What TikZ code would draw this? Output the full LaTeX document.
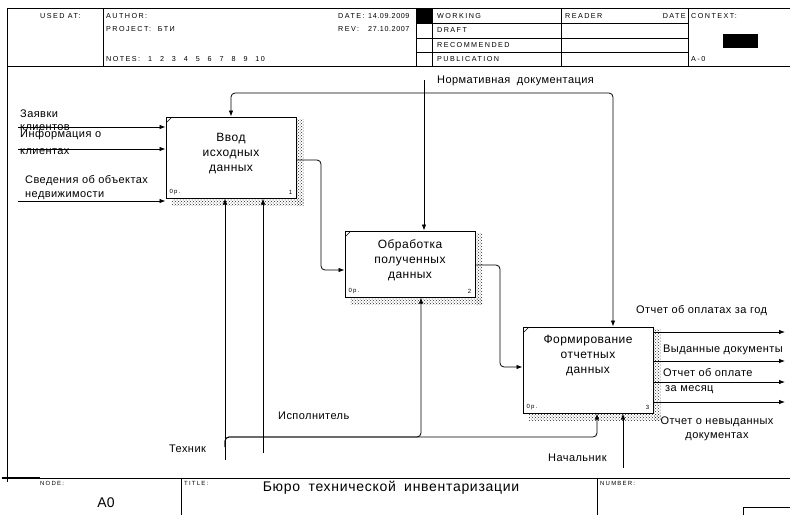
\documentclass[tikz,border=0pt]{standalone}
\usepackage{fontspec}
\setmainfont{Liberation Sans}
\newfontfamily\hdrfont[LetterSpace=20]{Liberation Sans}
\newfontfamily\numfont[LetterSpace=8]{Liberation Sans}
\newfontfamily\lblfont[LetterSpace=4]{Liberation Sans}
\newfontfamily\ttlfont[LetterSpace=5]{Liberation Sans}
\usetikzlibrary{arrows.meta,patterns}

\begin{document}
\begin{tikzpicture}[x=1pt,y=-1pt,
  frame/.style={line width=0.9pt},
  hdr/.style={font=\hdrfont\fontsize{7.2}{8}\selectfont, anchor=west, inner sep=0pt},
  hnum/.style={font=\numfont\fontsize{7.2}{8}\selectfont, anchor=west, inner sep=0pt},
  tiny/.style={font=\hdrfont\fontsize{6}{7}\selectfont, anchor=west, inner sep=0pt},
  lbl/.style={font=\lblfont\fontsize{11}{13}\selectfont, anchor=west, inner sep=0pt},
  fbox/.style={draw, line width=1pt, fill=white, inner sep=0pt},
  btxt/.style={font=\lblfont\fontsize{12}{15}\selectfont, align=center, inner sep=0pt, anchor=north},
  shade/.style={pattern=crosshatch dots, pattern color=black!85},
  link/.style={line width=0.8pt, rounded corners=4pt},
  arr/.style={link, -{Latex[length=6pt,width=4.5pt]}}]
\useasboundingbox (0,0) rectangle (790,515);

% ---------- header frame ----------
\draw[frame] (7,482) -- (7,8) -- (790,8);
\draw[frame] (7,66) -- (790,66);
\foreach \x in {103,416,432,561,688} \draw[frame] (\x,8) -- (\x,66);
\foreach \y in {23,38,52} \draw[frame] (416,\y) -- (688,\y);
\fill (416,8) rectangle (432,23);
\fill (723,34) rectangle (758,48);

\node[hdr] (usedat) at (40,16) {USED AT:};
\node[hdr] (author) at (106,16) {AUTHOR:};
\node[hdr] (project) at (106,29) {PROJECT:\ \ БТИ};
\node[hdr] (notes) at (106,59) {NOTES:\hspace{1.1em}1\hspace{1.1em}2\hspace{1.1em}3\hspace{1.1em}4\hspace{1.1em}5\hspace{1.1em}6\hspace{1.1em}7\hspace{1.1em}8\hspace{1.1em}9\hspace{1.1em}10};
\node[hdr] (date) at (338,16) {DATE:};
\node[hnum] (dateval) at (368,16) {14.09.2009};
\node[hdr] (rev) at (338,29) {REV:};
\node[hnum] (revval) at (368,29) {27.10.2007};
\node[hdr] (working) at (437,16) {WORKING};
\node[hdr] (draft) at (437,30) {DRAFT};
\node[hdr] (recom) at (437,45) {RECOMMENDED};
\node[hdr] (public) at (437,59) {PUBLICATION};
\node[hdr] (reader) at (565,16) {READER};
\node[hdr, anchor=east] (rdate) at (686,16) {DATE};
\node[hdr] (context) at (691,16) {CONTEXT:};
\node[hdr] (ctxnode) at (691,59) {A-0};

% ---------- footer frame ----------
\draw[frame] (2,478) -- (790,478);
\draw[line width=1.4pt] (2,478) -- (40,478);
\draw[frame] (181,478) -- (181,515);
\draw[frame] (597,478) -- (597,515);
\draw[frame] (743,515) -- (743,507) -- (790,507);
\node[tiny] (nodelbl) at (40,483) {NODE:};
\node[tiny] (titlelbl) at (184,483) {TITLE:};
\node[tiny] (numlbl) at (600,483) {NUMBER:};
\node[font=\fontsize{14}{16}\selectfont, inner sep=0pt] (nodeno) at (106,503) {A0};
\node[font=\ttlfont\fontsize{14}{16}\selectfont, inner sep=0pt] (title) at (391,488)
  {Бюро\hspace{0.6em}технической\hspace{0.6em}инвентаризации};

% ---------- function boxes ----------
\node[fbox, minimum width=130pt, minimum height=81pt] (b1) at (231,157.5) {};
\node[fbox, minimum width=130pt, minimum height=66pt] (b2) at (410,264) {};
\node[fbox, minimum width=130pt, minimum height=86pt] (b3) at (588,370) {};

\foreach \b/\n in {b1/1,b2/2,b3/3}{
  \fill[shade] ([shift={(0.6,3)}]\b.north east) rectangle ([shift={(7,7)}]\b.south east);
  \fill[shade] ([shift={(6,0.6)}]\b.south west) rectangle ([shift={(7,7)}]\b.south east);
  \draw[line width=0.5pt] ([shift={(1,6)}]\b.north west) -- ([shift={(6,1)}]\b.north west);
  \node[tiny] (\b op) at ([shift={(4,-6)}]\b.south west) {0р.};
  \node[tiny, anchor=east] (\b no) at ([shift={(-4,-6)}]\b.south east) {\n};
}

\node[btxt] (t1) at ([yshift=-16.5pt]b1.north) {Ввод\\исходных\\данных};
\node[btxt] (t2) at ([yshift=-8.5pt]b2.north) {Обработка\\полученных\\данных};
\node[btxt] (t3) at ([yshift=-8.5pt]b3.north) {Формирование\\отчетных\\данных};

% ---------- inputs ----------
\coordinate (in1) at (18,127);
\coordinate (in2) at (18,149);
\coordinate (in3) at (18,201);
\draw[arr] (in1) -- (in1 -| b1.west);
\draw[arr] (in2) -- (in2 -| b1.west);
\draw[arr] (in3) -- (in3 -| b1.west);
\node[lbl] (l1a) at (20,114) {Заявки};
\node[lbl] (l1b) at (20,128) {клиентов};
\node[lbl] (l2a) at (20,135) {Информация о};
\node[lbl] (l2b) at (20,152) {клиентах};
\node[lbl] (l3a) at (25,181) {Сведения об объектах};
\node[lbl] (l3b) at (25,196) {недвижимости};

% ---------- control ----------
\coordinate (ctl) at (424,80);
\coordinate (cj) at (424,93);
\draw[arr] (ctl) -- (ctl |- b2.north);
\draw[arr] (cj) -| (b1.north);
\draw[arr] (cj) -| ([xshift=25pt]b3.north);
\node[lbl] (lctl) at (437,81) {Нормативная\hspace{0.6em}документация};

% ---------- box to box ----------
\draw[arr] ([yshift=-2.5pt]b1.east) -| (321,215) |- ([yshift=-6pt]b2.west);
\draw[arr] ([yshift=-1pt]b2.east) -| (500,320) |- ([yshift=3pt]b3.west);

% ---------- outputs ----------
\coordinate (o1) at (785,332);
\coordinate (o2) at (785,361);
\coordinate (o3) at (785,382);
\coordinate (o4) at (785,402);
\foreach \o in {o1,o2,o3,o4} \draw[arr] (b3.east |- \o) -- (\o);
\node[lbl] (lo1) at (636,311) {Отчет об оплатах за год};
\node[lbl] (lo2) at (663,350) {Выданные документы};
\node[lbl] (lo3) at (663,373) {Отчет об оплате};
\node[lbl] (lo3b) at (665,390) {за месяц};
\node[lbl, anchor=center, align=center, font=\lblfont\fontsize{11}{14}\selectfont] (lo4) at (717,429) {Отчет о невыданных\\документах};

% ---------- mechanisms ----------
\coordinate (m1) at (225,460);
\coordinate (m2) at (263,453);
\coordinate (m3) at (623,468);
\coordinate (mj) at (225,447);
\coordinate (mh) at (225,437);
\draw[arr] (m1) -- (m1 |- b1.south);
\draw[arr] (m2) -- (m2 |- b1.south);
\draw[arr] (m3) -- (m3 |- b3.south);
\draw[arr] (mj) -- (mh) -| ([xshift=11pt]b2.south);
\draw[arr] (mj) -- (mh) -| ([xshift=9pt]b3.south);
\node[lbl] (lm1) at (169,449) {Техник};
\node[lbl] (lm2) at (278,416) {Исполнитель};
\node[lbl] (lm3) at (548,458) {Начальник};
\end{tikzpicture}
\end{document}
